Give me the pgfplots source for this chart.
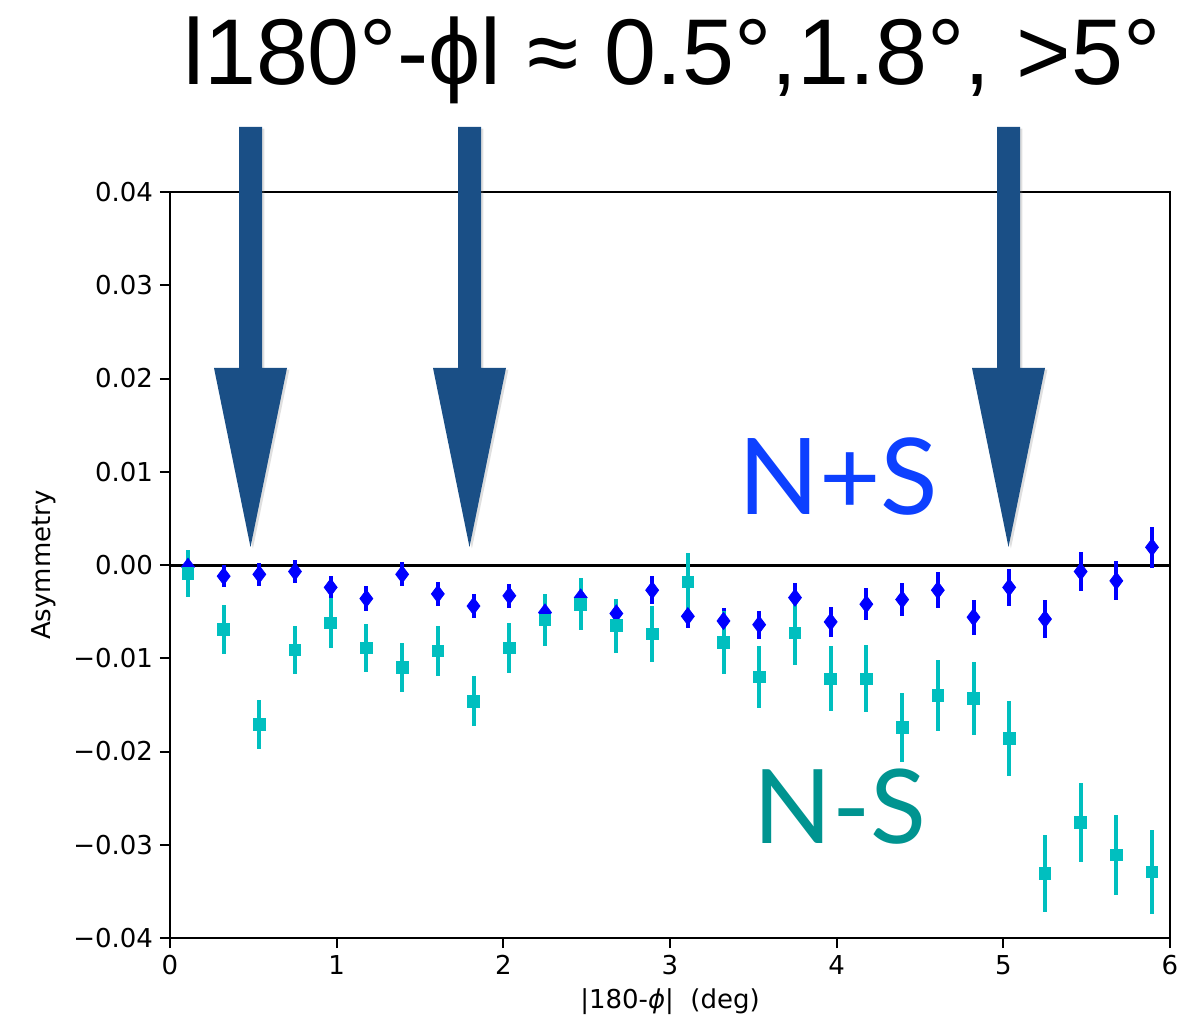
\documentclass[border=0pt]{standalone}
\usepackage{pgfplots}
\pgfplotsset{compat=1.18}
\usepackage{pgfplotstable}
\usepackage{fontspec}
\setmainfont{DejaVu Sans}
\newfontfamily\titlefont{Liberation Sans}
\newfontfamily\gillfont{Lato}
\usetikzlibrary{shadows}
\definecolor{mplblue}{rgb}{0,0,1}
\definecolor{mplcyan}{rgb}{0,0.75,0.75}
\definecolor{arrowblue}{HTML}{1A4F86}
\definecolor{nsblue}{HTML}{0D40FF}
\definecolor{nsteal}{HTML}{009490}

\pgfplotstableread{
x y ey
0.108 -0.0002 0.0015
0.322 -0.0012 0.0012
0.536 -0.0010 0.0012
0.750 -0.0007 0.0012
0.964 -0.0024 0.0012
1.178 -0.0036 0.0013
1.393 -0.0010 0.0013
1.607 -0.0031 0.0013
1.821 -0.0044 0.0013
2.036 -0.0033 0.0013
2.250 -0.0051 0.0013
2.464 -0.0035 0.0014
2.678 -0.0052 0.0013
2.893 -0.0027 0.0015
3.107 -0.0055 0.0013
3.321 -0.0060 0.0014
3.535 -0.0064 0.0015
3.750 -0.0035 0.0016
3.964 -0.0061 0.0016
4.178 -0.0042 0.0017
4.393 -0.0037 0.0018
4.607 -0.0027 0.0019
4.821 -0.0056 0.0019
5.035 -0.0024 0.0020
5.250 -0.0058 0.0020
5.464 -0.0007 0.0021
5.678 -0.0017 0.0021
5.892 0.0019 0.0022
}\nplus

\pgfplotstableread{
x y ey
0.108 -0.0009 0.0025
0.322 -0.0069 0.0026
0.536 -0.0171 0.0026
0.750 -0.0091 0.0026
0.964 -0.0062 0.0027
1.178 -0.0089 0.0026
1.393 -0.0110 0.0026
1.607 -0.0092 0.0027
1.821 -0.0146 0.0027
2.036 -0.0089 0.0027
2.250 -0.0059 0.0028
2.464 -0.0042 0.0028
2.678 -0.0065 0.0029
2.893 -0.0074 0.0030
3.107 -0.0018 0.0031
3.321 -0.0083 0.0034
3.535 -0.0120 0.0033
3.750 -0.0073 0.0034
3.964 -0.0122 0.0035
4.178 -0.0122 0.0036
4.393 -0.0174 0.0037
4.607 -0.0140 0.0038
4.821 -0.0143 0.0039
5.035 -0.0186 0.0040
5.250 -0.0331 0.0041
5.464 -0.0276 0.0042
5.678 -0.0311 0.0043
5.892 -0.0329 0.0045
}\nminus

\begin{document}
\begin{tikzpicture}
\useasboundingbox (-85pt,-42.5pt) rectangle (517pt,469pt);
\begin{axis}[
  at={(0pt,0pt)}, anchor=south west,
  scale only axis, width=500pt, height=373pt,
  xmin=0, xmax=6, ymin=-0.04, ymax=0.04,
  scaled y ticks=false, scaled x ticks=false,
  axis line style={line width=1pt},
  tick align=outside,
  major tick length=5pt,
  tick style={line width=1pt, black},
  xtick={0,1,2,3,4,5,6},
  xticklabels={0,1,2,3,4,5,6},
  ytick={-0.04,-0.03,-0.02,-0.01,0,0.01,0.02,0.03,0.04},
  yticklabels={−0.04,−0.03,−0.02,−0.01,0.00,0.01,0.02,0.03,0.04},
  ticklabel style={font=\fontsize{13}{15}\selectfont},
  xtick pos=bottom, ytick pos=left,
  xlabel={|180-\textit{ϕ}|\ \ (deg)},
  ylabel={Asymmetry},
  label style={font=\fontsize{13}{15}\selectfont},
  ylabel style={yshift=2pt},
  clip=false,
]
\addplot[black, line width=1.5pt, forget plot] coordinates {(0,0) (6,0)};
\addplot[mplblue, only marks, mark=diamond*, mark size=4.3pt,
  error bars/.cd, y dir=both, y explicit, error mark=none,
  error bar style={line width=2pt, mplblue}]
  table[x=x, y=y, y error=ey] {\nplus};
\addplot[mplcyan, only marks, mark=square*, mark size=2.9pt,
  error bars/.cd, y dir=both, y explicit, error mark=none,
  error bar style={line width=2pt, mplcyan}]
  table[x=x, y=y, y error=ey] {\nminus};
\end{axis}
% annotation arrows
\foreach \cx in {40.25,149.75,419.25}{
  \fill[arrowblue, drop shadow={opacity=0.25, shadow xshift=1.2pt, shadow yshift=-0.8pt}]
    (\cx pt-5.75pt,405.5pt) -- (\cx pt+5.75pt,405.5pt) -- (\cx pt+5.75pt,285pt)
    -- (\cx pt+18.25pt,285pt) -- (\cx pt,195.5pt) -- (\cx pt-18.25pt,285pt)
    -- (\cx pt-5.75pt,285pt) -- cycle;
}
\node[anchor=base, inner sep=0pt, font=\titlefont\fontsize{46.7}{50}\selectfont]
  at (251pt,426.5pt) {l180°-ϕl ≈ 0.5°,1.8°, >5°};
\node[anchor=base, inner sep=0pt, text=nsblue, font=\gillfont\fontsize{53}{58}\selectfont]
  at (334pt,211.5pt) {N+S};
\node[anchor=base, inner sep=0pt, text=nsteal, font=\gillfont\fontsize{51.5}{58}\selectfont]
  at (335pt,47.5pt) {N-S};
\end{tikzpicture}
\end{document}
